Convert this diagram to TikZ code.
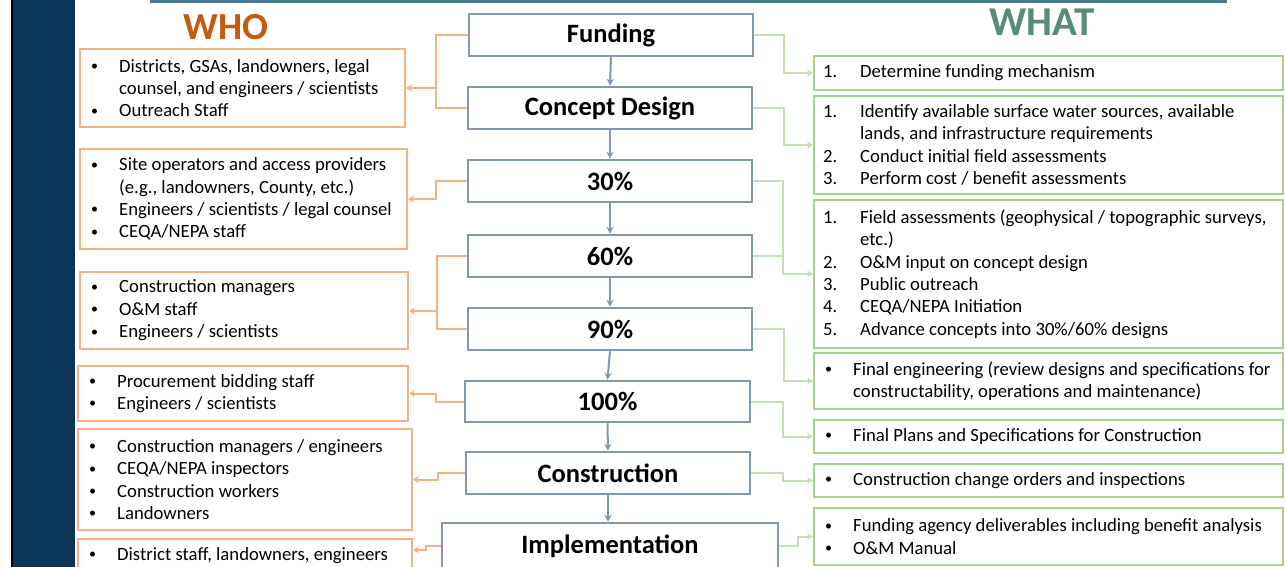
\documentclass[tikz,border=0pt]{standalone}
\usepackage{fontspec}
\setmainfont{Carlito}
\usetikzlibrary{arrows.meta}
\definecolor{navy}{HTML}{0B3556}
\definecolor{topbar}{HTML}{4A7A92}
\definecolor{cblue}{HTML}{8497B0}
\definecolor{orng}{HTML}{F4B183}
\definecolor{grn}{HTML}{A9D18E}
\definecolor{lgrn}{HTML}{C5E0B4}
\definecolor{whoc}{HTML}{C55A11}
\definecolor{whatc}{HTML}{588C78}
\newcommand\mkbox[7]{%
  \node[#1, minimum width={(#5-#3)*1pt}, minimum height={(#6-#4)*1pt}] (#2) at ({(#3+#5)/2},{(#4+#6)/2}) {#7};}
\newcommand\bulli[2]{\makebox[28pt][l]{#1}#2}
\newcommand\numli[2]{\makebox[37pt][l]{#1}#2}
\newcommand\bul{\raisebox{1.6pt}{\fontsize{14}{14}\selectfont •}}
\tikzset{
  cbox/.style={draw=cblue, line width=2.5pt, fill=white, inner sep=0pt,
    font=\fontsize{26.5}{30}\selectfont\bfseries},
  obox/.style={draw=orng, line width=2pt, inner sep=0pt},
  gbox/.style={draw=grn, line width=2pt, inner sep=0pt},
  btext/.style={anchor=west, align=left, inner sep=0pt,
    font=\fontsize{18.7}{22.4}\selectfont},
  down/.style={draw=cblue, line width=2pt, -{Stealth[length=7pt,width=7pt]}},
  oarr/.style={draw=orng, line width=2pt, -{Stealth[length=6pt,width=7pt]}},
  garr/.style={draw=lgrn, line width=2pt, -{Stealth[length=6pt,width=7pt]}},
  oline/.style={draw=orng, line width=2pt},
  gline/.style={draw=lgrn, line width=2pt},
}
\begin{document}
\begin{tikzpicture}[x=1pt,y=-1pt]
\useasboundingbox (0,0) rectangle (1286,567);
\fill[white] (0,0) rectangle (1286,567);
% side bar and top rule
\fill[black] (11,0) rectangle (13,567);
\fill[navy] (13,0) rectangle (75,567);
\fill[topbar] (150,0) rectangle (1227,3.5);
% headers
\node[font=\fontsize{38.3}{42}\selectfont\bfseries, text=whoc, inner sep=0pt] (who) at (226,27) {WHO};
\node[font=\fontsize{41}{46}\selectfont\bfseries, text=whatc, inner sep=0pt] (what) at (1042,22) {WHAT};
% central stages
\mkbox{cbox}{fund}{469}{14}{753}{56}{Funding}
\mkbox{cbox}{cdes}{468}{87}{752}{129}{Concept Design}
\mkbox{cbox}{p30}{468}{160}{752}{202}{30\%}
\mkbox{cbox}{p60}{468}{235}{752}{277}{60\%}
\mkbox{cbox}{p90}{468}{308}{752}{350}{90\%}
\mkbox{cbox}{p100}{465}{381}{750}{422}{100\%}
\mkbox{cbox}{cons}{466}{452}{750}{494}{Construction}
\mkbox{cbox}{impl}{442}{523}{778}{569}{Implementation}
\draw[down] (fund.south) -- (cdes.north);
\draw[down] (cdes.south) -- (p30.north);
\draw[down] (p30.south) -- (p60.north);
\draw[down] (p60.south) -- (p90.north);
\draw[down] (p90.south) -- (p100.north);
\draw[down] (p100.south) -- (cons.north);
\draw[down] (cons.south) -- (cons.south |- impl.north);
% WHO boxes
\mkbox{obox}{w1}{80}{49}{405}{127}{}
\node[btext] (w1t) at ([xshift=12pt]w1.west) {\bulli{\bul}{Districts, GSAs, landowners, legal}\\\bulli{}{counsel, and engineers / scientists}\\\bulli{\bul}{Outreach Staff}};
\mkbox{obox}{w2}{80}{149}{407}{249}{}
\node[btext] (w2t) at ([xshift=12pt]w2.west) {\bulli{\bul}{Site operators and access providers}\\\bulli{}{(e.g., landowners, County, etc.)}\\\bulli{\bul}{Engineers / scientists / legal counsel}\\\bulli{\bul}{CEQA/NEPA staff}};
\mkbox{obox}{w3}{80}{272}{408}{349}{}
\node[btext] (w3t) at ([xshift=12pt]w3.west) {\bulli{\bul}{Construction managers}\\\bulli{\bul}{O\&M staff}\\\bulli{\bul}{Engineers / scientists}};
\mkbox{obox}{w4}{78}{366}{408}{421}{}
\node[btext] (w4t) at ([xshift=12pt]w4.west) {\bulli{\bul}{Procurement bidding staff}\\\bulli{\bul}{Engineers / scientists}};
\mkbox{obox}{w5}{78}{429}{412}{530}{}
\node[btext] (w5t) at ([xshift=12pt]w5.west) {\bulli{\bul}{Construction managers / engineers}\\\bulli{\bul}{CEQA/NEPA inspectors}\\\bulli{\bul}{Construction workers}\\\bulli{\bul}{Landowners}};
\mkbox{obox}{w6}{78}{539}{412}{572}{}
\node[btext] (w6t) at ([xshift=12pt]w6.west) {\bulli{\bul}{District staff, landowners, engineers}};
% WHAT boxes
\mkbox{gbox}{g1}{814}{56}{1283}{90}{}
\node[btext] (g1t) at ([xshift=10pt]g1.west) {\numli{1.}{Determine funding mechanism}};
\mkbox{gbox}{g2}{814}{96}{1283}{194}{}
\node[btext] (g2t) at ([xshift=10pt]g2.west) {\numli{1.}{Identify available surface water sources, available}\\\numli{}{lands, and infrastructure requirements}\\\numli{2.}{Conduct initial field assessments}\\\numli{3.}{Perform cost / benefit assessments}};
\mkbox{gbox}{g3}{814}{200}{1283}{348}{}
\node[btext] (g3t) at ([xshift=10pt]g3.west) {\numli{1.}{Field assessments (geophysical / topographic surveys,}\\\numli{}{etc.)}\\\numli{2.}{O\&M input on concept design}\\\numli{3.}{Public outreach}\\\numli{4.}{CEQA/NEPA Initiation}\\\numli{5.}{Advance concepts into 30\%/60\% designs}};
\mkbox{gbox}{g4}{814}{353}{1283}{409}{}
\node[btext] (g4t) at ([xshift=12pt]g4.west) {\bulli{\bul}{Final engineering (review designs and specifications for}\\\bulli{}{constructability, operations and maintenance)}};
\mkbox{gbox}{g5}{814}{420}{1283}{453}{}
\node[btext] (g5t) at ([xshift=12pt]g5.west) {\bulli{\bul}{Final Plans and Specifications for Construction}};
\mkbox{gbox}{g6}{814}{464}{1283}{497}{}
\node[btext] (g6t) at ([xshift=12pt]g6.west) {\bulli{\bul}{Construction change orders and inspections}};
\mkbox{gbox}{g7}{814}{508}{1283}{565}{}
\node[btext] (g7t) at ([xshift=12pt]g7.west) {\bulli{\bul}{Funding agency deliverables including benefit analysis}\\\bulli{\bul}{O\&M Manual}};
% WHO connectors
\coordinate (jl1) at (436,88);
\draw[oline] (fund.west) -| (jl1) |- (cdes.west);
\draw[oarr] (jl1) -- (w1.east |- jl1);
\draw[oarr] (p30.west) -- ++(-31,0) |- (w2.east);
\coordinate (jl3) at (437,311);
\draw[oline] (p60.west) -| (jl3) |- (p90.west);
\draw[oarr] (jl3) -- (w3.east |- jl3);
\draw[oarr] (p100.west) -- ++(-28,0) |- (w4.east);
\draw[oarr] (cons.west) -- ++(-27,0) |- (w5.east);
\draw[oarr] (impl.west) -- ++(-15,0) |- (w6.east |- 0,550);
% WHAT connectors
\draw[garr] (fund.east) -- ++(30,0) |- (g1.west);
\draw[garr] (cdes.east) -- ++(31,0) |- (g2.west);
\coordinate (jr3) at (783,274);
\draw[gline] (p30.east) -| (jr3);
\draw[gline] (p60.east) -- (jr3 |- p60.east);
\draw[garr] (jr3) -- (g3.west);
\draw[garr] (p90.east) -- ++(31,0) |- (g4.west);
\draw[garr] (p100.east) -- ++(32,0) |- (g5.west);
\draw[garr] (cons.east) -- ++(32,0) |- (g6.west);
\draw[garr] (impl.east) -- ++(19,0) |- (g7.west);
\end{tikzpicture}
\end{document}
